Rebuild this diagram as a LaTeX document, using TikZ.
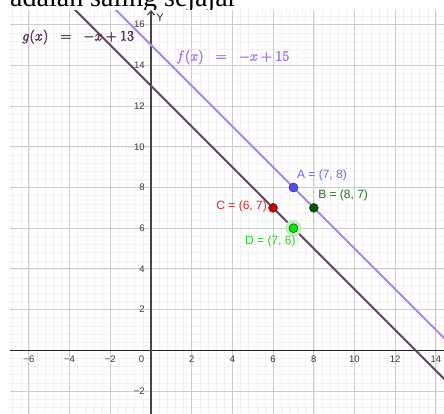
\documentclass[tikz,border=0pt]{standalone}
\usepackage{fontspec}
\setsansfont{Liberation Sans}
\newfontfamily\serifT{Liberation Serif}
\usetikzlibrary{arrows.meta}
\newcommand\heavytext[1]{\special{pdf:literal direct 2 Tr 0.35 w}#1\special{pdf:literal direct 0 Tr}}
\definecolor{gcol}{RGB}{98,66,98}
\definecolor{gtxt}{RGB}{88,52,88}
\definecolor{fcol}{RGB}{178,128,255}
\definecolor{ftxt}{RGB}{170,115,252}
\definecolor{minorc}{RGB}{240,240,240}
\definecolor{majorc}{RGB}{205,205,205}
\definecolor{axisc}{RGB}{37,37,37}
\definecolor{yaxisc}{RGB}{70,70,70}
\definecolor{tickc}{RGB}{55,55,55}
\definecolor{acol}{RGB}{77,77,255}
\definecolor{atxt}{RGB}{102,102,255}
\definecolor{bcol}{RGB}{0,90,0}
\definecolor{btxt}{RGB}{40,110,40}
\definecolor{ccol}{RGB}{204,0,0}
\definecolor{ctxt}{RGB}{214,40,40}
\definecolor{dcol}{RGB}{0,235,0}
\definecolor{dtxt}{RGB}{30,215,30}
\definecolor{halo}{RGB}{190,240,190}
\tikzset{
  minorgrid/.style={draw=minorc, line width=0.5pt},
  majorgrid/.style={draw=majorc, line width=0.9pt},
  axisline/.style={line width=1.1pt},
  funcline/.style={line width=1.9pt},
  pt/.style={circle, draw=black!80, line width=0.5pt, minimum size=9pt, inner sep=0pt},
  ptlabel/.style={font=\sffamily\fontsize{12}{14}\selectfont, inner sep=0pt},
  ticklab/.style={font=\sffamily\fontsize{9.5}{10}\selectfont, text=tickc, inner sep=0pt},
  funclab/.style={font=\fontsize{14}{16}\selectfont, inner sep=0pt, anchor=west}
}
\begin{document}
\begin{tikzpicture}[x=20.35pt,y=20.35pt]
\useasboundingbox (-7.42,-3.13) rectangle (14.398,17.214);
\clip (-7.42,-3.13) rectangle (14.398,17.214);
\fill[white] (-7.42,-3.13) rectangle (14.398,17.214);
% cut-off heading
\node[anchor=base west, inner sep=0pt, font=\serifT\fontsize{28}{30}\selectfont] (title) at (-6.93,16.89) {adalah saling sejajar};
% graph panel
\fill[white] (-6.93,-3.13) rectangle (14.398,16.72);
\begin{scope}
  \clip (-6.93,-3.13) rectangle (14.398,16.72);
  \draw[minorgrid] (-7.2,-3.2) grid[step=0.4] (14.8,17.2);
  \draw[majorgrid] (-8,-4) grid[step=2] (16,18);
  \coordinate (xl) at (-6.93,0);
  \coordinate (xr) at (14.398,0);
  \coordinate (yb) at (0,-3.13);
  \coordinate (yt) at (0,16.72);
  \draw[axisline, draw=axisc] (xl) -- (xr);
  \draw[axisline, draw=yaxisc, -{Straight Barb[length=4pt,width=7pt]}] (yb) -- (yt);
  % functions
  \coordinate (g1) at (-4,17);
  \coordinate (g2) at (16.2,-3.2);
  \coordinate (f1) at (-2,17);
  \coordinate (f2) at (18.2,-3.2);
  \draw[funcline, draw=gcol] (g1) -- (g2);
  \draw[funcline, draw=fcol] (f1) -- (f2);
\end{scope}
% tick labels
\foreach \v/\t in {-6/{−6},-4/{−4},-2/{−2},2/2,4/4,6/6,8/8,10/10,12/12,14/14}
  \node[ticklab] (xt\v) at (\v,-0.43) {\t};
\node[ticklab] (xt0) at (-0.46,-0.43) {0};
\foreach \v/\t in {-2/{−2},2/2,4/4,6/6,8/8,10/10,12/12,14/14,16/16}
  \node[ticklab, anchor=east] (yt\v) at (-0.3,\v) {\t};
\node[font=\sffamily\fontsize{11}{12}\selectfont, text=axisc, inner sep=0pt] (ylab) at (0.44,16.33) {Y};
% function labels
\node[funclab, text=gtxt] (glab) at (-6.34,15.4) {\heavytext{$g(x)\mkern10mu=\mkern10mu-x+13$}};
\node[funclab, text=ftxt] (flab) at (1.23,14.41) {\heavytext{$f(x)\mkern10mu=\mkern10mu-x+15$}};
% points
\fill[halo] (7,6) circle (0.4);
\node[pt, fill=acol] (A) at (7,8) {};
\node[pt, fill=bcol] (B) at (8,7) {};
\node[pt, fill=ccol] (C) at (6,7) {};
\node[pt, fill=dcol] (D) at (7,6) {};
\node[ptlabel, text=atxt, anchor=west] (Al) at (7.17,8.61) {A = (7, 8)};
\node[ptlabel, text=btxt, anchor=west] (Bl) at (8.21,7.63) {B = (8, 7)};
\node[ptlabel, text=ctxt, anchor=east] (Cl) at (5.70,7.09) {C = (6, 7)};
\node[ptlabel, text=dtxt, anchor=west] (Dl) at (4.62,5.34) {D = (7, 6)};
\end{tikzpicture}
\end{document}
